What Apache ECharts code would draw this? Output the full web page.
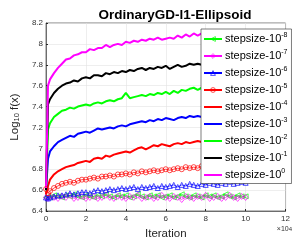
<!DOCTYPE html>
<html>
<head>
<meta charset="utf-8">
<script src="https://cdn.jsdelivr.net/npm/echarts@6/dist/echarts.min.js"></script>
<style>
  html, body { margin: 0; padding: 0; background: #fff; }
  #main { width: 293px; height: 245px; }
</style>
</head>
<body>
<div id="main"></div>
<script>
// iteration (x 10^4)
const X = [
  0, 0.1, 0.2, 0.4, 0.6, 0.8, 1.0, 1.2, 1.4, 1.6, 1.8, 2.0, 2.2,
  2.4, 2.6, 2.8, 3.0, 3.2, 3.4, 3.6, 3.8, 4.0, 4.2, 4.4, 4.6, 4.8,
  5.0, 5.2, 5.4, 5.6, 5.8, 6.0, 6.2, 6.4, 6.6, 6.8, 7.0, 7.2, 7.4,
  7.6, 7.8, 8.0, 8.2, 8.4, 8.6, 8.8, 9.0, 9.2, 9.4, 9.6, 9.8, 10.0
];

const step8 = [
  6.53, 6.54, 6.53, 6.55, 6.54, 6.53, 6.55, 6.54, 6.56, 6.54, 6.53, 6.55, 6.54,
  6.53, 6.55, 6.54, 6.56, 6.54, 6.53, 6.55, 6.54, 6.55, 6.53, 6.54, 6.56, 6.54,
  6.53, 6.55, 6.54, 6.55, 6.53, 6.54, 6.55, 6.53, 6.54, 6.56, 6.54, 6.53, 6.55,
  6.54, 6.53, 6.55, 6.54, 6.55, 6.53, 6.54, 6.56, 6.54, 6.53, 6.55, 6.54, 6.54
];
const step7 = [
  6.53, 6.52, 6.54, 6.53, 6.52, 6.54, 6.53, 6.55, 6.52, 6.53, 6.54, 6.52, 6.53,
  6.54, 6.52, 6.53, 6.55, 6.53, 6.52, 6.54, 6.53, 6.52, 6.54, 6.53, 6.55, 6.52,
  6.53, 6.54, 6.52, 6.53, 6.55, 6.53, 6.52, 6.54, 6.53, 6.51, 6.54, 6.53, 6.52,
  6.54, 6.53, 6.55, 6.52, 6.53, 6.54, 6.52, 6.53, 6.55, 6.53, 6.52, 6.54, 6.53
];
const step6 = [
  6.53, 6.52, 6.53, 6.54, 6.55, 6.55, 6.56, 6.57, 6.56, 6.57, 6.58, 6.58, 6.57,
  6.59, 6.60, 6.59, 6.60, 6.61, 6.60, 6.61, 6.62, 6.61, 6.62, 6.63, 6.61, 6.63,
  6.62, 6.63, 6.64, 6.62, 6.64, 6.63, 6.64, 6.65, 6.63, 6.65, 6.64, 6.66, 6.65,
  6.64, 6.66, 6.65, 6.67, 6.66, 6.65, 6.67, 6.66, 6.68, 6.66, 6.67, 6.68, 6.67
];
const step5 = [
  6.61, 6.57, 6.59, 6.62, 6.64, 6.66, 6.67, 6.68, 6.67, 6.69, 6.70, 6.70, 6.71,
  6.72, 6.71, 6.73, 6.73, 6.74, 6.73, 6.75, 6.75, 6.76, 6.75, 6.77, 6.76, 6.78,
  6.77, 6.78, 6.79, 6.78, 6.79, 6.80, 6.79, 6.80, 6.81, 6.80, 6.82, 6.81, 6.82,
  6.81, 6.83, 6.82, 6.83, 6.82, 6.84, 6.83, 6.84, 6.83, 6.85, 6.84, 6.85, 6.84
];
const step4 = [
  6.56, 6.64, 6.70, 6.75, 6.78, 6.80, 6.82, 6.83, 6.84, 6.86, 6.87, 6.88, 6.87,
  6.90, 6.91, 6.90, 6.93, 6.92, 6.94, 6.95, 6.96, 6.97, 6.96, 6.98, 7.00, 7.01,
  6.99, 7.01, 7.03, 7.02, 7.04, 7.03, 7.02, 7.04, 7.05, 7.04, 7.06, 7.05, 7.06,
  7.07, 7.06, 7.08, 7.07, 7.08, 7.07, 7.09, 7.08, 7.09, 7.08, 7.10, 7.09, 7.10
];
const step3 = [
  6.60, 6.90, 6.97, 7.02, 7.06, 7.08, 7.10, 7.12, 7.11, 7.14, 7.15, 7.16, 7.15,
  7.17, 7.19, 7.18, 7.19, 7.20, 7.19, 7.21, 7.22, 7.21, 7.23, 7.24, 7.25, 7.26,
  7.25, 7.27, 7.26, 7.28, 7.27, 7.29, 7.28, 7.27, 7.29, 7.30, 7.29, 7.31, 7.30,
  7.31, 7.30, 7.32, 7.31, 7.32, 7.31, 7.33, 7.32, 7.33, 7.32, 7.34, 7.33, 7.34
];
const step2 = [
  6.60, 7.18, 7.24, 7.30, 7.33, 7.36, 7.37, 7.39, 7.38, 7.40, 7.41, 7.42, 7.41,
  7.43, 7.44, 7.43, 7.45, 7.46, 7.45, 7.47, 7.48, 7.53, 7.48, 7.49, 7.50, 7.51,
  7.50, 7.52, 7.51, 7.53, 7.52, 7.54, 7.52, 7.55, 7.53, 7.56, 7.55, 7.57, 7.58,
  7.56, 7.58, 7.57, 7.59, 7.58, 7.57, 7.59, 7.58, 7.60, 7.59, 7.61, 7.60, 7.61
];
const step1 = [
  6.60, 7.42, 7.47, 7.53, 7.57, 7.60, 7.62, 7.63, 7.65, 7.64, 7.67, 7.68, 7.67,
  7.70, 7.70, 7.69, 7.72, 7.71, 7.73, 7.72, 7.74, 7.73, 7.75, 7.74, 7.76, 7.77,
  7.75, 7.77, 7.76, 7.78, 7.77, 7.79, 7.76, 7.78, 7.80, 7.78, 7.79, 7.81, 7.80,
  7.81, 7.80, 7.82, 7.81, 7.82, 7.81, 7.83, 7.82, 7.83, 7.82, 7.84, 7.83, 7.84
];
const step0 = [
  6.62, 7.60, 7.66, 7.72, 7.77, 7.81, 7.85, 7.86, 7.89, 7.90, 7.92, 7.92, 7.95,
  7.94, 7.96, 7.96, 7.99, 7.97, 7.99, 8.00, 7.99, 8.02, 8.01, 8.03, 8.02, 8.04,
  8.03, 8.05, 8.04, 8.06, 8.04, 8.05, 8.06, 8.05, 8.08, 8.06, 8.09, 8.07, 8.10,
  8.08, 8.10, 8.09, 8.11, 8.10, 8.12, 8.10, 8.12, 8.11, 8.13, 8.12, 8.13, 8.12
];

const exps = ['-8', '-7', '-6', '-5', '-4', '-3', '-2', '-1', '0'];
const values = [step8, step7, step6, step5, step4, step3, step2, step1, step0];
const colors = ['#00ff00', '#ff00ff', '#0000ff', '#ff0000', '#ff0000', '#0000ff', '#00ff00', '#000000', '#ff00ff'];
const symbols = ['triangle', 'diamond', 'triangle', 'circle', 'none', 'none', 'none', 'none', 'none'];
const rotations = [90, 0, 0, 0, 0, 0, 0, 0, 0];

const names = exps.map(e => 'stepsize-10^' + e);

const series = values.map((ys, k) => {
  const thick = symbols[k] === 'none';
  return {
    name: names[k],
    type: 'line',
    data: X.map((x, i) => [x, ys[i]]),
    symbol: symbols[k],
    symbolRotate: rotations[k],
    symbolSize: symbols[k] === 'diamond' ? [5, 6] : 5,
    showSymbol: !thick,
    color: colors[k],
    lineStyle: { width: thick ? 2 : 0.7, color: colors[k] },
    itemStyle: { color: 'rgba(255,255,255,0)', borderColor: colors[k], borderWidth: 0.7 },
    animation: false,
    z: 2
  };
});

const legendData = names.map((n, k) => symbols[k] === 'none'
  ? { name: n, itemStyle: { opacity: 0 } }
  : { name: n, itemStyle: { color: 'rgba(255,255,255,0)', borderColor: colors[k], borderWidth: 0.7 } });

const chart = echarts.init(document.getElementById('main'));
chart.setOption({
  backgroundColor: '#fff',
  animation: false,
  title: {
    text: 'OrdinaryGD-l1-Ellipsoid',
    left: 170,
    textAlign: 'center',
    top: 3,
    textStyle: { fontFamily: 'Liberation Sans', fontWeight: 'bold', fontSize: 13.5, color: '#000' }
  },
  grid: {
    left: 46, right: 1, top: 23, bottom: 34,
    show: true, borderColor: '#262626', borderWidth: 0.6
  },
  xAxis: {
    type: 'value', min: 0, max: 12, interval: 2,
    name: 'Iteration', nameLocation: 'middle', nameGap: 16,
    nameTextStyle: { fontFamily: 'Liberation Sans', fontSize: 11.5, color: '#262626' },
    axisLine: { show: true, lineStyle: { color: '#262626', width: 0.6 } },
    axisTick: { show: true, inside: true, length: 2, lineStyle: { color: '#262626' } },
    axisLabel: { fontFamily: 'Liberation Sans', fontSize: 8, color: '#333', margin: 4 },
    splitLine: { show: true, lineStyle: { color: '#e3e3e3', width: 0.6 } }
  },
  yAxis: {
    type: 'value', min: 6.4, max: 8.2, interval: 0.2,
    name: 'Log{sub|10} f(x)', nameLocation: 'middle', nameGap: 24,
    nameTextStyle: {
      fontFamily: 'Liberation Sans', fontSize: 11.5, color: '#262626',
      rich: { sub: { fontFamily: 'Liberation Sans', fontSize: 7.5, color: '#262626', verticalAlign: 'bottom', lineHeight: 8 } }
    },
    axisLine: { show: true, lineStyle: { color: '#262626', width: 0.6 } },
    axisTick: { show: true, inside: true, length: 2, lineStyle: { color: '#262626' } },
    axisLabel: { fontFamily: 'Liberation Sans', fontSize: 8, color: '#333', margin: 3 },
    splitLine: { show: true, lineStyle: { color: '#e3e3e3', width: 0.6 } }
  },
  legend: {
    orient: 'vertical',
    left: 201, top: 29,
    padding: [3, 4, 3, 2],
    itemGap: 4.5,
    itemWidth: 18,
    itemHeight: 6,
    backgroundColor: '#fff',
    borderColor: '#262626',
    borderWidth: 0.6,
    data: legendData,
    formatter: name => '{b|stepsize-10}{s|' + exps[names.indexOf(name)] + '}',
    textStyle: {
      fontFamily: 'Liberation Sans', fontSize: 11, color: '#000', padding: [0, 0, 0, -2],
      rich: {
        b: { fontFamily: 'Liberation Sans', fontSize: 11, lineHeight: 14, color: '#000' },
        s: { fontFamily: 'Liberation Sans', fontSize: 7, lineHeight: 14, verticalAlign: 'top', color: '#000' }
      }
    }
  },
  graphic: [{
    type: 'text',
    right: 1, top: 226,
    style: {
      text: '×10{e|4}',
      fontFamily: 'Liberation Sans', fontSize: 7, fill: '#333',
      rich: { e: { fontSize: 6, verticalAlign: 'top', fill: '#333' } }
    }
  }],
  series: series
});
</script>
</body>
</html>
